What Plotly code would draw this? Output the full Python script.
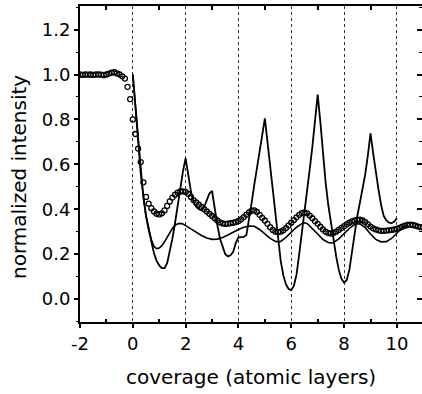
import plotly.graph_objects as go

# ---- data ----
# measured (open circles), coverage -2.0 .. 11.0 step 0.1
meas_x = [round(-2.0 + 0.1 * i, 1) for i in range(131)]
meas_y = [
    1.000, 0.998, 1.000, 0.999, 1.000, 0.998, 1.000, 1.000, 0.999, 0.997,   # -2.0 .. -1.1
    1.000, 1.004, 1.008, 1.010, 1.005, 1.000, 0.992, 0.982, 0.945, 0.890,   # -1.0 .. -0.1
    0.800, 0.735, 0.670, 0.610, 0.520, 0.455, 0.425, 0.405, 0.390, 0.380,   # 0.0 .. 0.9
    0.377, 0.382, 0.395, 0.415, 0.435, 0.452, 0.465, 0.474, 0.479, 0.480,   # 1.0 .. 1.9
    0.477, 0.468, 0.455, 0.441, 0.430, 0.420, 0.410, 0.400, 0.390, 0.380,   # 2.0 .. 2.9
    0.370, 0.360, 0.350, 0.342, 0.337, 0.335, 0.336, 0.338, 0.340, 0.343,   # 3.0 .. 3.9
    0.348, 0.355, 0.365, 0.376, 0.386, 0.394, 0.395, 0.388, 0.375, 0.362,   # 4.0 .. 4.9
    0.350, 0.335, 0.320, 0.308, 0.300, 0.298, 0.300, 0.307, 0.316, 0.328,   # 5.0 .. 5.9
    0.340, 0.352, 0.364, 0.375, 0.383, 0.386, 0.382, 0.372, 0.360, 0.347,   # 6.0 .. 6.9
    0.335, 0.322, 0.310, 0.300, 0.294, 0.292, 0.294, 0.300, 0.308, 0.317,   # 7.0 .. 7.9
    0.325, 0.333, 0.340, 0.346, 0.350, 0.353, 0.354, 0.350, 0.343, 0.333,   # 8.0 .. 8.9
    0.323, 0.315, 0.310, 0.306, 0.304, 0.304, 0.305, 0.306, 0.308, 0.310,   # 9.0 .. 9.9
    0.313, 0.317, 0.322, 0.327, 0.330, 0.332, 0.330, 0.327, 0.323, 0.320,   # 10.0 .. 10.9
    0.318,                                                                  # 11.0
]

# sharp-peaked simulation, coverage 0.0 .. 10.0 step 0.1
peak_x = [round(0.1 * i, 1) for i in range(101)]
peak_y = [
    1.000, 0.860, 0.720, 0.560, 0.460, 0.370, 0.310, 0.250, 0.205, 0.170,   # 0.0 .. 0.9
    0.150, 0.138, 0.138, 0.160, 0.210, 0.270, 0.340, 0.420, 0.500, 0.570,   # 1.0 .. 1.9
    0.627, 0.550, 0.480, 0.430, 0.410, 0.400, 0.396, 0.410, 0.440, 0.470,   # 2.0 .. 2.9
    0.482, 0.400, 0.330, 0.270, 0.230, 0.200, 0.190, 0.195, 0.210, 0.250,   # 3.0 .. 3.9
    0.275, 0.275, 0.277, 0.285, 0.350, 0.430, 0.510, 0.590, 0.660, 0.730,   # 4.0 .. 4.9
    0.805, 0.700, 0.590, 0.480, 0.370, 0.260, 0.170, 0.105, 0.065, 0.045,   # 5.0 .. 5.9
    0.040, 0.060, 0.110, 0.200, 0.290, 0.380, 0.480, 0.580, 0.680, 0.790,   # 6.0 .. 6.9
    0.910, 0.790, 0.650, 0.520, 0.420, 0.340, 0.260, 0.190, 0.130, 0.090,   # 7.0 .. 7.9
    0.073, 0.085, 0.130, 0.210, 0.300, 0.370, 0.430, 0.490, 0.555, 0.640,   # 8.0 .. 8.9
    0.738, 0.650, 0.560, 0.490, 0.420, 0.370, 0.350, 0.340, 0.338, 0.345,   # 9.0 .. 9.9
    0.360,                                                                  # 10.0
]

# smooth simulation
smooth_x = [0.0, 0.1, 0.2, 0.3, 0.4, 0.5, 0.6, 0.7, 0.8, 0.9, 1.0, 1.1, 1.2, 1.3, 1.4,
            1.5, 1.6, 1.7, 1.8, 1.9, 2.0, 2.2, 2.4, 2.6, 2.8, 3.0, 3.2, 3.4, 3.6, 3.8,
            4.0, 4.2, 4.4, 4.6, 4.8, 5.0, 5.2, 5.4, 5.5, 5.6, 5.8, 6.0, 6.2, 6.4, 6.5,
            6.6, 6.8, 7.0, 7.2, 7.4, 7.5, 7.6, 7.8, 8.0, 8.2, 8.4, 8.5, 8.6, 8.8, 9.0,
            9.2, 9.4, 9.5, 9.6, 9.8, 10.0, 10.2, 10.4]
smooth_y = [1.000, 0.860, 0.720, 0.560, 0.450, 0.370, 0.310, 0.265, 0.235, 0.225, 0.227, 0.238, 0.255, 0.275, 0.297,
            0.315, 0.328, 0.335, 0.337, 0.334, 0.327, 0.312, 0.297, 0.283, 0.272, 0.266, 0.267, 0.274, 0.285, 0.298,
            0.310, 0.320, 0.325, 0.324, 0.310, 0.290, 0.270, 0.257, 0.255, 0.257, 0.275, 0.298, 0.320, 0.336, 0.340,
            0.337, 0.315, 0.290, 0.265, 0.252, 0.250, 0.252, 0.268, 0.290, 0.315, 0.332, 0.336, 0.335, 0.318, 0.290,
            0.266, 0.255, 0.254, 0.256, 0.270, 0.295, 0.318, 0.330]

x_major = [-2, 0, 2, 4, 6, 8, 10]
x_minor = [-1, 1, 3, 5, 7, 9]
x_labels = ["-2", "0", "2", "4", "6", "8", "10"]
y_major = [0.0, 0.2, 0.4, 0.6, 0.8, 1.0, 1.2]
y_labels = ["0.0", "0.2", "0.4", "0.6", "0.8", "1.0", "1.2"]

X_RANGE = [-2, 10.95]
Y_RANGE = [-0.102, 1.305]
FONT = "DejaVu Sans, Arial, sans-serif"

fig = go.Figure()
fig.add_trace(go.Scatter(
    x=meas_x, y=meas_y, mode="markers",
    marker=dict(symbol="circle-open", size=5, color="black", line=dict(width=1.3, color="black")),
    showlegend=False, hoverinfo="skip"))
fig.add_trace(go.Scatter(
    x=smooth_x, y=smooth_y, mode="lines",
    line=dict(color="black", width=1.6), showlegend=False, hoverinfo="skip"))
fig.add_trace(go.Scatter(
    x=peak_x, y=peak_y, mode="lines",
    line=dict(color="black", width=1.8), showlegend=False, hoverinfo="skip"))
# empty trace to realise the top/right mirror axes
fig.add_trace(go.Scatter(x=[None], y=[None], xaxis="x2", yaxis="y2",
                         showlegend=False, hoverinfo="skip"))

fig.update_layout(
    width=422, height=394,
    margin=dict(l=80, r=0, t=6, b=72),
    paper_bgcolor="white", plot_bgcolor="white",
    font=dict(family=FONT, size=18, color="black"),
    xaxis=dict(
        range=X_RANGE, tickmode="array", tickvals=x_major, ticktext=x_labels,
        ticks="outside", ticklen=4, tickwidth=1.5, tickcolor="black",
        showline=True, linecolor="black", linewidth=2,
        showgrid=True, gridcolor="#333333", gridwidth=1, griddash="dot",
        zeroline=False,
        minor=dict(tickvals=x_minor, ticks="inside", ticklen=3, tickwidth=1.5,
                   tickcolor="black", showgrid=False),
        tickfont=dict(size=18),
    ),
    yaxis=dict(
        range=Y_RANGE, tickmode="array", tickvals=y_major, ticktext=y_labels,
        ticks="outside", ticklen=4, tickwidth=1.5, tickcolor="black",
        showline=True, linecolor="black", linewidth=2,
        showgrid=False, zeroline=False,
        minor=dict(dtick=0.1, ticks="outside", ticklen=2, tickwidth=1.2,
                   tickcolor="black", showgrid=False),
        tickfont=dict(size=18),
    ),
    xaxis2=dict(
        overlaying="x", side="top", range=X_RANGE,
        tickmode="array", tickvals=x_minor, showticklabels=False,
        ticks="inside", ticklen=4, tickwidth=1.5, tickcolor="black",
        showline=True, linecolor="black", linewidth=2,
        showgrid=False, zeroline=False,
    ),
    yaxis2=dict(
        overlaying="y", side="right", range=Y_RANGE,
        tickmode="array", tickvals=y_major, showticklabels=False,
        ticks="inside", ticklen=5, tickwidth=1.5, tickcolor="black",
        showline=False, showgrid=False, zeroline=False,
        minor=dict(dtick=0.1, ticks="inside", ticklen=3, tickwidth=1.2,
                   tickcolor="black", showgrid=False),
    ),
    annotations=[
        dict(text="coverage (atomic layers)", xref="paper", yref="paper",
             x=0.5, y=0, yshift=-55, xanchor="center", yanchor="middle",
             showarrow=False, font=dict(family=FONT, size=20, color="black")),
        dict(text="normalized intensity", xref="paper", yref="paper",
             x=0, xshift=-61, y=0.5, yshift=-13, textangle=-90,
             xanchor="center", yanchor="middle",
             showarrow=False, font=dict(family=FONT, size=20, color="black")),
    ],
)

fig.write_html("out.html")
